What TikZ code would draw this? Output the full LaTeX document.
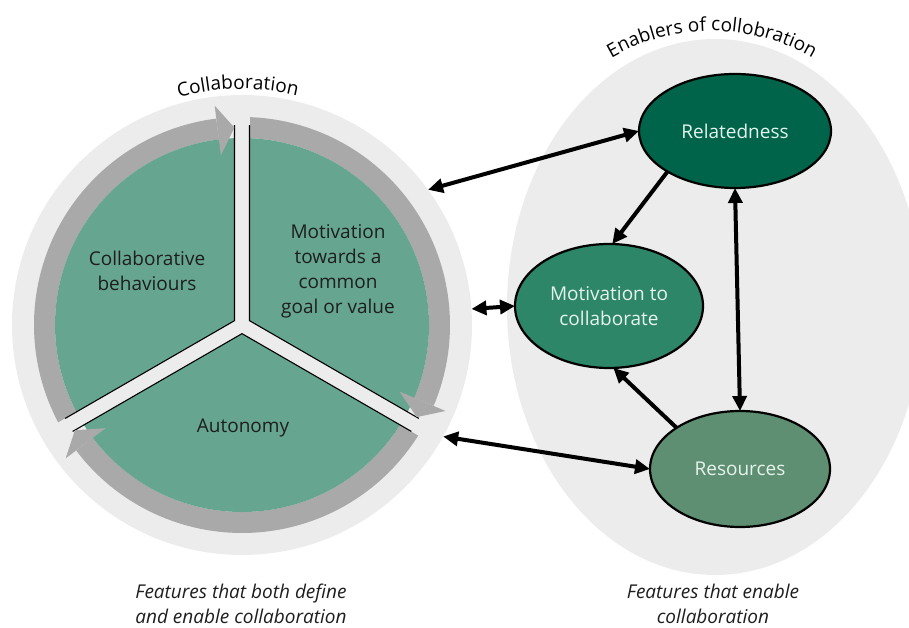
\documentclass[tikz,border=0pt]{standalone}
\usepackage{fontspec}
\setmainfont{Open Sans}
\usetikzlibrary{shapes.geometric,arrows.meta,calc,decorations.text}
\definecolor{lightbg}{HTML}{ECECEC}
\definecolor{ringgray}{HTML}{A9A9A9}
\definecolor{sectgreen}{HTML}{66A690}
\definecolor{relgreen}{HTML}{00644A}
\definecolor{motgreen}{HTML}{2E8668}
\definecolor{resgreen}{HTML}{5E8F72}
\definecolor{ovaltext}{HTML}{E6F3EC}
\definecolor{darktext}{HTML}{1E1E1E}
\newcommand\lblfont{\fontsize{19}{25}\selectfont}
\begin{document}
\begin{tikzpicture}[x=1pt,y=1pt,
  every node/.style={inner sep=0pt, outer sep=0pt},
  oval/.style={ellipse, draw=black, line width=2.2pt, text=ovaltext, font=\lblfont, align=center},
  conn/.style={line width=4pt, {Triangle[length=15pt,width=14pt]}-{Triangle[length=15pt,width=14pt]}},
  oneway/.style={line width=4pt, -{Triangle[length=15pt,width=14pt]}},
  sectlabel/.style={text=darktext, font=\lblfont, align=center},
  caption/.style={text=darktext, font=\lblfont\itshape, align=center},
  ringarc/.style={draw=ringgray, line width=21pt},
  edgeline/.style={draw=black, line width=1.1pt}
]
\useasboundingbox (0,0) rectangle (909,628);
\coordinate (C) at (242,303);
\coordinate (E0) at (712,397);
\node[circle, fill=lightbg, minimum size=460pt] (collab) at (C) {};
\node[ellipse, fill=lightbg, minimum width=416pt, minimum height=536pt] (enab) at (715,321) {};

% ring arcs
\draw[ringarc] ($(C)+(90:197.5)$) arc[start angle=90, end angle=-22.9, radius=197.5];
\draw[ringarc] ($(C)+(-30:197.5)$) arc[start angle=-30, end angle=-142.9, radius=197.5];
\draw[ringarc] ($(C)+(210:197.5)$) arc[start angle=210, end angle=97.1, radius=197.5];

% gaps
\foreach \a in {90,210,330} {
  \fill[lightbg] ($(C)+(\a:150)+({\a+90}:7.5)$) -- ($(C)+(\a:216)+({\a+90}:7.5)$) -- ($(C)+(\a:216)+({\a-90}:7.5)$) -- ($(C)+(\a:150)+({\a-90}:7.5)$) -- cycle;
}

% sectors
\foreach \lo/\hi/\m in {90/210/150, -30/90/30, 210/330/270} {
  \fill[sectgreen] ($(C)+(\m:8.66)$) -- ($(C)+({\lo+2.3}:187)$) arc[start angle={\lo+2.3}, end angle={\hi-2.3}, radius=187] -- cycle;
  \draw[edgeline] ($(C)+({\lo+2.15}:200)$) -- ($(C)+(\m:8.66)$) -- ($(C)+({\hi-2.15}:200)$);
}

% ring arrow heads
\foreach \b/\t in {-22.9/-27.8, -142.9/-147.8, 97.1/92.2} {
  \fill[ringgray] ($(C)+(\b:171)$) -- ($(C)+(\t:197.5)$) -- ($(C)+(\b:221)$) -- cycle;
}

% sector labels
\node[sectlabel] (cb) at (147,357) {Collaborative\\behaviours};
\node[sectlabel] (mt) at (338,357) {Motivation\\towards a\\common\\goal or value};
\node[sectlabel] (au) at (243,200) {Autonomy};

% curved titles
\path[decorate, decoration={text along path, text align=center, text={|\lblfont|Collaboration}}]
  ($(C)+(125:236)$) arc[start angle=125, end angle=57, radius=236];
\path[decorate, decoration={text along path, text align=center, text={|\lblfont|Enablers of collobration}}]
  ($(E0)+(130:200)$) arc[start angle=130, end angle=50, radius=200];

% ovals
\node[oval, fill=relgreen, minimum width=192pt, minimum height=114pt] (rel) at (735,497) {Relatedness};
\node[oval, fill=motgreen, minimum width=188pt, minimum height=124pt] (mot) at (609,322) {Motivation to\\collaborate};
\node[oval, fill=resgreen, minimum width=180pt, minimum height=116pt] (res) at (740,159) {Resources};

% connectors
\draw[conn] (collab.36) -- (rel.west);
\draw[conn] (collab.4.5) -- (mot.west);
\draw[conn] (collab.-29.5) -- (res.west);
\draw[oneway] (rel.211) -- (mot.87);
\draw[oneway] (res.147) -- (mot.-86);
\draw[conn] (rel.south) -- (res.north);

% captions
\node[caption, anchor=south] (cap1) at (241,4) {Features that both define\\and enable collaboration};
\node[caption, anchor=south] (cap2) at (713,4) {Features that enable\\collaboration};
\end{tikzpicture}
\end{document}
